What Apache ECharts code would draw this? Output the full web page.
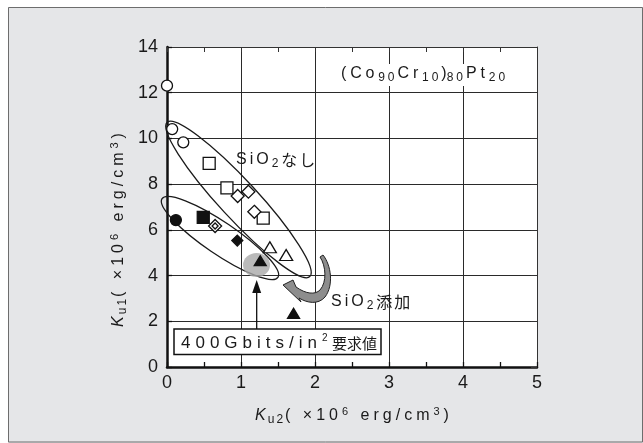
<!DOCTYPE html>
<html><head><meta charset="utf-8">
<script src="https://cdn.jsdelivr.net/npm/echarts@6/dist/echarts.min.js"></script>
<style>html,body{margin:0;padding:0;background:#fff}#c{width:643px;height:443px}</style>
</head><body><div id="c"></div>
<script>
// ---- data ----
const openCircles    = [[0.00,12.31],[0.07,10.41],[0.22,9.83]];
const openSquares    = [[0.57,8.91],[0.81,7.84],[1.30,6.51]];
const openDiamonds   = [[0.955,7.48],[1.10,7.67],[1.18,6.79]];
const openTriangles  = [[1.39,5.24],[1.61,4.90]];
const filledCircles  = [[0.12,6.43]];
const filledSquares  = [[0.49,6.55]];
const dottedDiamonds = [[0.65,6.17]];
const filledDiamonds = [[0.95,5.53]];
const filledTriangles= [[1.26,4.65],[1.71,2.35]];
const targetSpot     = [[1.21,4.46]];
// group ellipses: centre (x,y) and end of major axis (x,y)
const groupEllipses  = [[0.966,7.33,1.930,3.955],[0.716,5.644,1.499,3.92]];
const requirementArrow = [[1.212,1.66,3.81]];   // x, from y, to y
const additionArrowAnchor = [[2.095,4.856]];
const xTickLabels = ['0','1','2','3','4','5'];
const yTickLabels = ['0','2','4','6','8','10','12','14'];

// ---- styles ----
const ELLIPSE_MINOR = [19, 16];
const FF = "'Liberation Sans', Arial, Helvetica, sans-serif";
const JF = "'Noto Sans CJK JP', sans-serif";
const INK = '#1a1a1a';
const CURVE_PATH = 'M 1 -1 C 9 9 12 29 3 41 C -4 49 -15 47 -23 42 L -21 46 L -39 29 L -29 24 L -26 31 C -16 38 -7 39 -2 34 C 5 26 4 10 -2 1 Z';

const sp = (s, k) => s.split('').map(c => '{' + k + '|' + c + '}').join('');

const titleRich = {
  ki:{fontFamily:FF,fontSize:16,fontStyle:'italic',lineHeight:20,padding:[0,2,0,0],fill:INK},
  sb:{fontFamily:FF,fontSize:12,lineHeight:12,verticalAlign:'bottom',padding:[0,2,0,0],fill:INK},
  n:{fontFamily:FF,fontSize:16,lineHeight:20,padding:[0,4,0,0],fill:INK},
  n0:{fontFamily:FF,fontSize:16,lineHeight:20,fill:INK},
  su:{fontFamily:FF,fontSize:11,lineHeight:12,verticalAlign:'top',padding:[0,4,0,0],fill:INK}
};
const axisTitle = (sub) => '{ki|K}' + sp(sub,'sb') + sp('( ×10','n') + '{su|6}' + sp(' erg/cm','n') + '{su|3}' + '{n0|)}';

const compRich = {
  t:{fontFamily:FF,fontSize:16,lineHeight:20,padding:[0,3.8,0,0],fill:INK},
  t0:{fontFamily:FF,fontSize:16,lineHeight:20,fill:INK},
  ts:{fontFamily:FF,fontSize:12,lineHeight:12,verticalAlign:'bottom',padding:[0,3,0,0],fill:INK}
};
const compText = sp('(Co','t') + sp('90','ts') + sp('Cr','t') + sp('10','ts') + '{t0|)}' + sp('80','ts') + sp('Pt','t') + sp('20','ts');

const labRich = {
  a:{fontFamily:FF,fontSize:16,lineHeight:20,padding:[0,3,0,0],fill:INK},
  as:{fontFamily:FF,fontSize:12,lineHeight:12,verticalAlign:'bottom',padding:[0,3,0,0],fill:INK},
  aj:{fontFamily:JF,fontSize:16,lineHeight:20,padding:[0,2,0,0],fill:INK}
};
const noneText = sp('SiO','a') + '{as|2}' + sp('なし','aj');
const addText  = sp('SiO','a') + '{as|2}' + sp('添加','aj');

const boxRich = {
  b:{fontFamily:FF,fontSize:17,lineHeight:20,padding:[0,5,0,0],fill:INK},
  bs:{fontFamily:FF,fontSize:10,lineHeight:10,verticalAlign:'top',padding:[0,1,0,0],fill:INK},
  bg:{fontFamily:FF,fontSize:12,lineHeight:20,fill:INK},
  bj:{fontFamily:JF,fontSize:15,lineHeight:20,fill:INK}
};
const boxText = sp('400Gbits/in','b') + '{bs|2}' + '{bg| }' + sp('要求値','bj');

const marker = (data, symbol, size, fill, z) => ({
  type:'scatter', data, symbol, symbolSize:size, clip:false, silent:true, z: z || 3,
  itemStyle:{color:fill, borderColor:'#111', borderWidth:1.3, opacity:1},
  emphasis:{disabled:true}
});

const chart = echarts.init(document.getElementById('c'), null, {renderer:'canvas'});
chart.setOption({
  animation:false,
  backgroundColor:'#e5e6e8',
  grid:{left:167, right:106, top:47, bottom:76, show:true, backgroundColor:'#ffffff', borderWidth:0},
  xAxis:[{
    type:'value', min:0, max:5, interval:1,
    axisLine:{onZero:false, lineStyle:{color:'#111', width:2.5}},
    axisTick:{show:true, inside:true, length:5, lineStyle:{color:'#111', width:1.3}},
    minorTick:{show:true, splitNumber:2, length:5, lineStyle:{color:'#111', width:1.3}},
    splitLine:{show:true, lineStyle:{color:'#2a2a2a', width:1}},
    axisLabel:{margin:7, fontSize:18, fontFamily:FF, color:INK, formatter:v => xTickLabels[Math.round(v)]}
  },{
    type:'value', position:'top', min:0, max:5, interval:1,
    axisLine:{onZero:false, lineStyle:{color:'#333', width:1}},
    axisTick:{show:true, inside:true, length:5, lineStyle:{color:'#333'}},
    minorTick:{show:true, splitNumber:2, length:5, lineStyle:{color:'#333'}},
    splitLine:{show:false}, axisLabel:{show:false}
  }],
  yAxis:[{
    type:'value', min:0, max:14, interval:2,
    axisLine:{show:true, onZero:false, lineStyle:{color:'#111', width:2.5}},
    axisTick:{show:true, inside:true, length:5, lineStyle:{color:'#111', width:1.3}},
    splitLine:{show:true, lineStyle:{color:'#2a2a2a', width:1}},
    axisLabel:{margin:9, fontSize:18, fontFamily:FF, color:INK, formatter:v => yTickLabels[Math.round(v/2)]}
  },{
    type:'value', position:'right', min:0, max:14, interval:2,
    axisLine:{show:true, onZero:false, lineStyle:{color:'#333', width:1}},
    axisTick:{show:true, inside:true, length:6, lineStyle:{color:'#333'}},
    splitLine:{show:false}, axisLabel:{show:false}
  }],
  series:[
    {type:'scatter', data:targetSpot, symbol:'circle', symbolSize:[27,24], clip:false, silent:true, z:2,
     itemStyle:{color:'#a9a9a9'}},
    {type:'custom', data:groupEllipses, clip:false, silent:true, z:2,
     renderItem:(params, api) => {
       const c = api.coord([api.value(0), api.value(1)]);
       const e = api.coord([api.value(2), api.value(3)]);
       const dx = e[0]-c[0], dy = e[1]-c[1];
       return {type:'ellipse', x:c[0], y:c[1], rotation:-Math.atan2(dy, dx),
         shape:{cx:0, cy:0, rx:Math.hypot(dx, dy), ry:ELLIPSE_MINOR[params.dataIndex]},
         style:{fill:'none', stroke:'#1a1a1a', lineWidth:1.3}};
     }},
    marker(openCircles, 'circle', 11, '#fff'),
    marker(openSquares, 'rect', 12, '#fff'),
    marker(openDiamonds, 'diamond', 13, '#fff'),
    marker(openTriangles, 'triangle', [13,11], '#fff'),
    marker(filledCircles, 'circle', 11, '#111'),
    marker(filledSquares, 'rect', 12, '#111'),
    marker(dottedDiamonds, 'diamond', 13, '#fff'),
    marker(dottedDiamonds, 'diamond', 6, '#fff', 4),
    marker(filledDiamonds, 'diamond', 11, '#111'),
    marker(filledTriangles, 'triangle', [12,10], '#111'),
    {type:'custom', data:requirementArrow, clip:false, silent:true, z:3,
     renderItem:(params, api) => {
       const b = api.coord([api.value(0), api.value(1)]);
       const t = api.coord([api.value(0), api.value(2)]);
       return {type:'group', children:[
         {type:'line', shape:{x1:b[0], y1:b[1], x2:t[0], y2:t[1]+10}, style:{stroke:'#111', lineWidth:1.3}},
         {type:'polygon', shape:{points:[[t[0],t[1]],[t[0]-4.5,t[1]+13],[t[0]+4.5,t[1]+13]]}, style:{fill:'#111'}}
       ]};
     }},
    {type:'custom', data:additionArrowAnchor, clip:false, silent:true, z:3,
     renderItem:(params, api) => {
       const a = api.coord([api.value(0), api.value(1)]);
       return {type:'path', x:a[0], y:a[1], shape:{pathData:CURVE_PATH},
         style:{fill:'#8d8d8d', stroke:'#222', lineWidth:1}};
     }}
  ],
  graphic:[
    {type:'rect', z:10, silent:true, shape:{x:0, y:0, width:643, height:7}, style:{fill:'#fff'}},
    {type:'rect', z:10, silent:true, shape:{x:0, y:0, width:8, height:443}, style:{fill:'#fff'}},
    {type:'rect', z:10, silent:true, shape:{x:8.5, y:7.5, width:634, height:434.5}, style:{fill:'none', stroke:'#6d6d6d', lineWidth:1}},
    {type:'rect', z:5, silent:true, shape:{x:336, y:64, width:184, height:22}, style:{fill:'#fff'}},
    {type:'text', z:10, silent:true, x:341, y:74, style:{text:compText, rich:compRich, align:'left', verticalAlign:'middle', fontFamily:FF, fontSize:16, fill:INK}},
    {type:'text', z:10, silent:true, x:236, y:160, style:{text:noneText, rich:labRich, align:'left', verticalAlign:'middle', fontFamily:FF, fontSize:16, fill:INK}},
    {type:'text', z:10, silent:true, x:331, y:302, style:{text:addText, rich:labRich, align:'left', verticalAlign:'middle', fontFamily:FF, fontSize:16, fill:INK}},
    {type:'rect', z:10, silent:true, shape:{x:174, y:329, width:207, height:25.5}, style:{fill:'#fff', stroke:'#111', lineWidth:1.5}},
    {type:'text', z:11, silent:true, x:181, y:343, style:{text:boxText, rich:boxRich, align:'left', verticalAlign:'middle', fontFamily:FF, fontSize:17, fill:INK}},
    {type:'text', z:10, silent:true, x:352, y:416, style:{text:axisTitle('u2'), rich:titleRich, align:'center', verticalAlign:'middle', fontFamily:FF, fontSize:16, fill:INK}},
    {type:'text', z:10, silent:true, x:119, y:230, rotation:Math.PI/2, style:{text:axisTitle('u1'), rich:titleRich, align:'center', verticalAlign:'middle', fontFamily:FF, fontSize:16, fill:INK}}
  ]
});
</script></body></html>
